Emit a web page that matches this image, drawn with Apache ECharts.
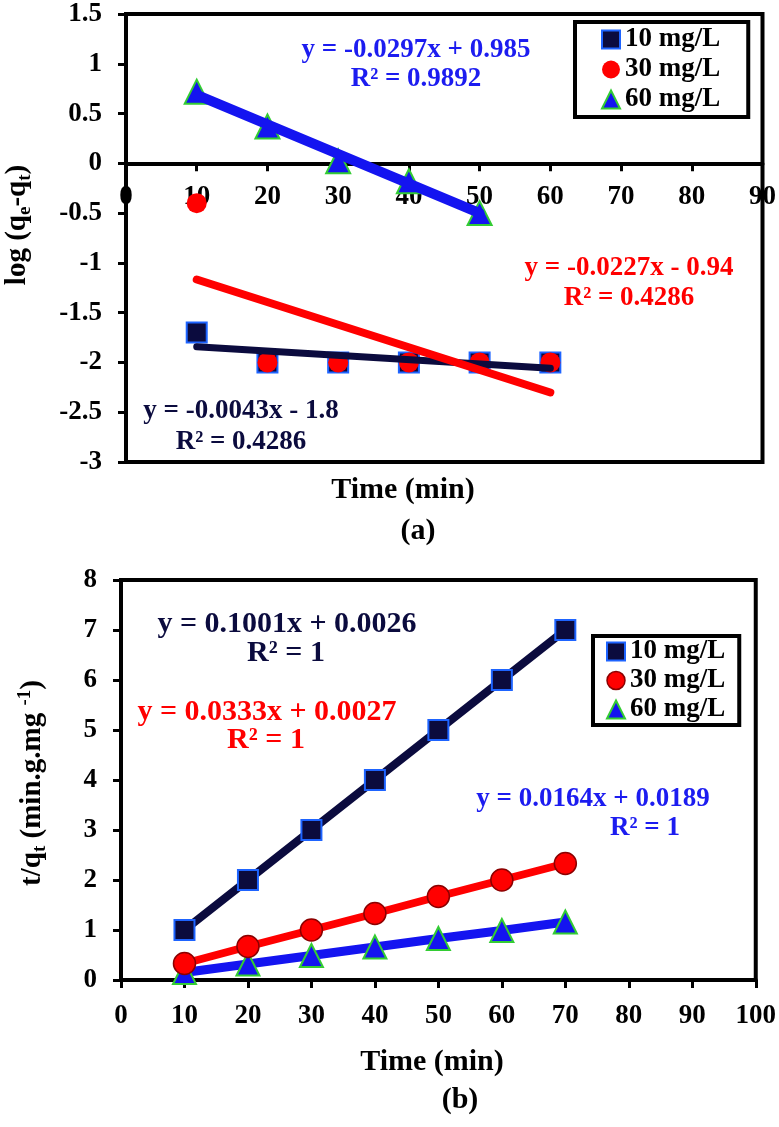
<!DOCTYPE html>
<html>
<head>
<meta charset="utf-8">
<script src="https://cdn.jsdelivr.net/npm/echarts@6/dist/echarts.min.js"></script>
<style>
html,body{margin:0;padding:0;background:#fff;}
#chart{width:779px;height:1127px;}
</style>
</head>
<body>
<div id="chart"></div>
<script>
// ---------- Data: chart (a) pseudo-first-order ----------
const timeA = [10, 20, 30, 40, 50, 60];
const timeA60 = [10, 20, 30, 40, 50];
const logA10 = [-1.7, -2, -2, -2, -2, -2];
const logA30 = [-0.4, -2, -2, -2, -2, -2];
const logA60 = [0.72, 0.37, 0.02, -0.18, -0.5];
// trend line end points
const trendA10 = [[10, -1.843], [60, -2.058]];
const trendA30 = [[10, -1.167], [60, -2.302]];
const trendA60 = [[10, 0.688], [50, -0.5]];
const ticksAy = ['-3', '-2.5', '-2', '-1.5', '-1', '-0.5', '0', '0.5', '1', '1.5'];
const yMinA = -3, yMaxA = 1.5;

// ---------- Data: chart (b) pseudo-second-order ----------
const timeB = [10, 20, 30, 40, 50, 60, 70];
const tqB10 = [1, 2, 3, 4, 5, 6, 7];
const tqB30 = [0.33, 0.67, 1.0, 1.33, 1.67, 2.0, 2.33];
const tqB60 = [0.15, 0.32, 0.49, 0.66, 0.83, 0.99, 1.16];

const seriesNames = ['10 mg/L', '30 mg/L', '60 mg/L'];
const eqA = ['y = -0.0043x - 1.8', 'R² = 0.4286', 'y = -0.0227x - 0.94', 'R² = 0.4286', 'y = -0.0297x + 0.985', 'R² = 0.9892'];
const eqB = ['y = 0.1001x + 0.0026', 'R² = 1', 'y = 0.0333x + 0.0027', 'R² = 1', 'y = 0.0164x + 0.0189', 'R² = 1'];

const pair = (xs, ys) => xs.map((x, i) => [x, ys[i]]);

const FF = '"Liberation Serif", "Times New Roman", serif';
const NAVY = '#0b0b3e';
const SQB = '#1e64ff';
const RED = '#ff0000';
const BLUE = '#1414f0';
const GREEN = '#33cc33';
const TXTBLUE = '#1c1cf0';

const tickFont = {fontFamily: FF, fontWeight: 'bold', fontSize: 27, color: '#000'};

function txt(text, x, y, color, size) {
  return {type: 'text', x: x, y: y, z: 100,
    style: {text: text, fill: color, font: 'bold ' + (size || 27) + 'px ' + FF, align: 'center', verticalAlign: 'middle'}};
}

const gridAHeight = 448;
// move the x axis of chart (a) up to the y = 0 line
const xAxisAOffset = -gridAHeight * (0 - yMinA) / (yMaxA - yMinA);

const chart = echarts.init(document.getElementById('chart'), null, {renderer: 'canvas'});

const legendBase = {
  orient: 'vertical', itemWidth: 18, itemHeight: 18, borderColor: '#000', borderWidth: 4,
  borderRadius: 0, backgroundColor: '#fff', selectedMode: false, z: 50,
  textStyle: {fontFamily: FF, fontWeight: 'bold', fontSize: 27, color: '#000'}
};

const option = {
  animation: false,
  backgroundColor: '#fff',
  grid: [
    {left: 126, top: 14, width: 637, height: gridAHeight, show: true, borderColor: '#000', borderWidth: 4, backgroundColor: 'transparent'},
    {left: 121, top: 580, width: 642, height: 400, show: true, borderColor: '#000', borderWidth: 4, backgroundColor: 'transparent'}
  ],
  xAxis: [
    {gridIndex: 0, type: 'value', min: 0, max: 90, interval: 10, position: 'bottom', offset: xAxisAOffset,
      axisLine: {onZero: false, lineStyle: {color: '#000', width: 4}},
      axisTick: {show: true, inside: false, length: 8, lineStyle: {color: '#000', width: 3}},
      axisLabel: Object.assign({margin: 20}, tickFont), splitLine: {show: false}},
    {gridIndex: 1, type: 'value', min: 0, max: 100, interval: 10,
      axisLine: {onZero: false, lineStyle: {color: '#000', width: 4}},
      axisTick: {show: true, inside: false, length: 8, lineStyle: {color: '#000', width: 3}},
      axisLabel: Object.assign({margin: 23}, tickFont), splitLine: {show: false}}
  ],
  yAxis: [
    {gridIndex: 0, type: 'value', min: yMinA, max: yMaxA, interval: 0.5,
      axisLine: {show: true, onZero: false, lineStyle: {color: '#000', width: 4}},
      axisTick: {show: true, inside: false, length: 8, lineStyle: {color: '#000', width: 3}},
      axisLabel: Object.assign({margin: 24, formatter: v => ticksAy.find(t => Math.abs(parseFloat(t) - v) < 1e-6) || String(v)}, tickFont),
      splitLine: {show: false}},
    {gridIndex: 1, type: 'value', min: 0, max: 8, interval: 1,
      axisLine: {show: true, onZero: false, lineStyle: {color: '#000', width: 4}},
      axisTick: {show: true, inside: false, length: 8, lineStyle: {color: '#000', width: 3}},
      axisLabel: Object.assign({margin: 24}, tickFont), splitLine: {show: false}}
  ],
  legend: [
    Object.assign({}, legendBase, {left: 575, top: 22, itemGap: 3, padding: [4, 28, 4, 26],
      data: [
        {name: seriesNames[0], icon: 'rect', itemStyle: {color: NAVY, borderColor: SQB, borderWidth: 2}},
        {name: seriesNames[1], icon: 'circle', itemStyle: {color: RED, borderColor: RED, borderWidth: 0}},
        {name: seriesNames[2], icon: 'triangle', itemStyle: {color: BLUE, borderColor: GREEN, borderWidth: 2}}
      ]}),
    Object.assign({}, legendBase, {left: 593, top: 636, itemGap: 2, padding: [2, 14, 2, 13],
      data: [
        {name: seriesNames[0], icon: 'rect', itemStyle: {color: NAVY, borderColor: SQB, borderWidth: 2}},
        {name: seriesNames[1], icon: 'circle', itemStyle: {color: RED, borderColor: '#8b0000', borderWidth: 1.5}},
        {name: seriesNames[2], icon: 'triangle', itemStyle: {color: BLUE, borderColor: GREEN, borderWidth: 2}}
      ]})
  ],
  series: [
    // ----- chart (a) -----
    {name: seriesNames[0], type: 'scatter', xAxisIndex: 0, yAxisIndex: 0, z: 2,
      symbol: 'rect', symbolSize: 20, data: pair(timeA, logA10),
      itemStyle: {color: NAVY, borderColor: SQB, borderWidth: 2, opacity: 1}},
    {name: seriesNames[1], type: 'scatter', xAxisIndex: 0, yAxisIndex: 0, z: 3,
      symbol: 'circle', symbolSize: 20, data: pair(timeA, logA30),
      itemStyle: {color: RED, opacity: 1}},
    {name: seriesNames[2], type: 'scatter', xAxisIndex: 0, yAxisIndex: 0, z: 4,
      symbol: 'triangle', symbolSize: 24, data: pair(timeA60, logA60),
      itemStyle: {color: BLUE, borderColor: GREEN, borderWidth: 2, opacity: 1}},
    {name: 'trendA10', type: 'line', xAxisIndex: 0, yAxisIndex: 0, z: 5, symbol: 'none',
      data: trendA10, lineStyle: {color: NAVY, width: 7, cap: 'round'}},
    {name: 'trendA30', type: 'line', xAxisIndex: 0, yAxisIndex: 0, z: 6, symbol: 'none',
      data: trendA30, lineStyle: {color: RED, width: 8, cap: 'round'}},
    {name: 'trendA60', type: 'line', xAxisIndex: 0, yAxisIndex: 0, z: 7, symbol: 'none',
      data: trendA60, lineStyle: {color: BLUE, width: 10, cap: 'round'}},
    // ----- chart (b) -----
    {name: seriesNames[0], type: 'line', xAxisIndex: 1, yAxisIndex: 1, z: 4,
      symbol: 'rect', symbolSize: 20, data: pair(timeB, tqB10),
      lineStyle: {color: NAVY, width: 8}, itemStyle: {color: NAVY, borderColor: SQB, borderWidth: 2}},
    {name: seriesNames[1], type: 'line', xAxisIndex: 1, yAxisIndex: 1, z: 3,
      symbol: 'circle', symbolSize: 22, data: pair(timeB, tqB30),
      lineStyle: {color: RED, width: 8}, itemStyle: {color: RED, borderColor: '#8b0000', borderWidth: 1.5}},
    {name: seriesNames[2], type: 'line', xAxisIndex: 1, yAxisIndex: 1, z: 2,
      symbol: 'triangle', symbolSize: 23, data: pair(timeB, tqB60),
      lineStyle: {color: BLUE, width: 9}, itemStyle: {color: BLUE, borderColor: GREEN, borderWidth: 2}}
  ],
  graphic: [
    // equations chart (a)
    txt(eqA[0], 241, 411, NAVY), txt(eqA[1], 241, 442, NAVY),
    txt(eqA[2], 629, 268, RED), txt(eqA[3], 629, 298, RED),
    txt(eqA[4], 416, 50, TXTBLUE), txt(eqA[5], 416, 79, TXTBLUE),
    // equations chart (b)
    txt(eqB[0], 287, 624, NAVY, 30), txt(eqB[1], 286, 653, NAVY, 30),
    txt(eqB[2], 267, 712, RED, 30), txt(eqB[3], 266, 740, RED, 30),
    txt(eqB[4], 593, 799, TXTBLUE), txt(eqB[5], 645, 828, TXTBLUE),
    // axis titles
    txt('Time (min)', 403, 490, '#000', 30),
    txt('(a)', 418, 531, '#000', 30),
    txt('Time (min)', 432, 1062, '#000', 30),
    txt('(b)', 460, 1100, '#000', 30),
    {type: 'text', x: 18, y: 225, rotation: Math.PI / 2, z: 100,
      style: {text: '{m|log (q}{s|e}{m|-q}{s|t}{m|)}', align: 'center', verticalAlign: 'middle',
        rich: {
          m: {fill: '#000', fontFamily: FF, fontWeight: 'bold', fontSize: 29, lineHeight: 34, verticalAlign: 'middle'},
          s: {fill: '#000', fontFamily: FF, fontWeight: 'bold', fontSize: 19, lineHeight: 10, verticalAlign: 'bottom'}
        }}},
    {type: 'text', x: 33, y: 783, rotation: Math.PI / 2, z: 100,
      style: {text: '{m|t/q}{s|t}{m| (min.g.mg }{p|-1}{m|)}', align: 'center', verticalAlign: 'middle',
        rich: {
          m: {fill: '#000', fontFamily: FF, fontWeight: 'bold', fontSize: 29, lineHeight: 34, verticalAlign: 'middle'},
          s: {fill: '#000', fontFamily: FF, fontWeight: 'bold', fontSize: 19, lineHeight: 10, verticalAlign: 'bottom'},
          p: {fill: '#000', fontFamily: FF, fontWeight: 'bold', fontSize: 19, lineHeight: 10, verticalAlign: 'top'}
        }}}
  ]
};

chart.setOption(option);
</script>
</body>
</html>
